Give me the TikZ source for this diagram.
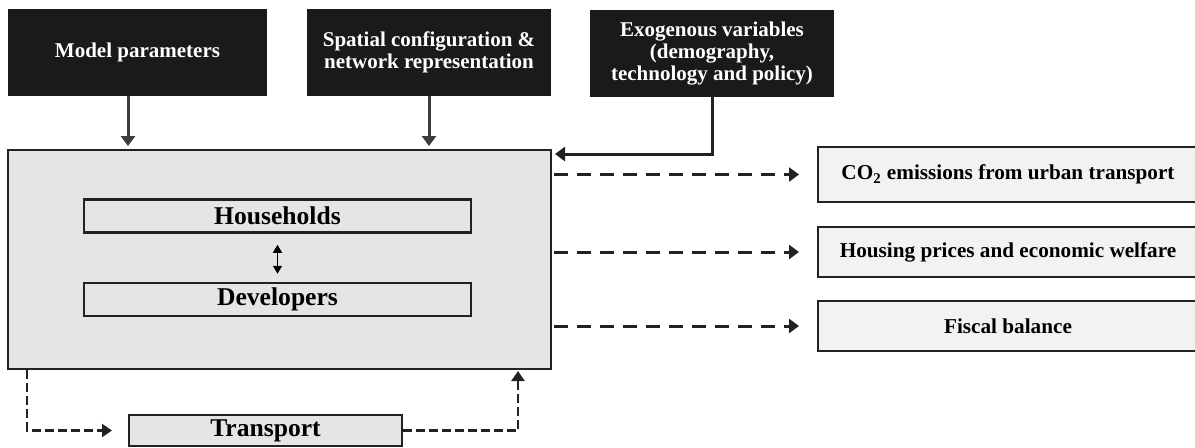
\documentclass[tikz,border=0pt]{standalone}
\usepackage{fontspec}
\setmainfont{Liberation Serif}
\usetikzlibrary{arrows.meta,calc}
\definecolor{blk}{HTML}{1A1A1A}
\definecolor{mainfill}{HTML}{E5E5E5}
\definecolor{outfill}{HTML}{F2F2F2}
\definecolor{edgec}{HTML}{222222}
\definecolor{arrg}{HTML}{3C3C3C}
\begin{document}
\begin{tikzpicture}[x=0.5pt,y=-0.5pt,
  inbox/.style={rectangle, fill=blk, text=white, font=\bfseries\fontsize{10.5pt}{10.8pt}\selectfont, align=center, inner sep=0pt, minimum height=43.5pt},
  bigbox/.style={rectangle, draw=edgec, line width=1pt, fill=mainfill, inner sep=0pt},
  agent/.style={rectangle, draw=edgec, line width=1.25pt, inner sep=0pt, minimum width=193.5pt, minimum height=16.5pt, font=\bfseries\fontsize{12.8pt}{12.8pt}\selectfont},
  outbox/.style={rectangle, draw=edgec, line width=1pt, fill=outfill, inner sep=0pt, minimum width=190pt, font=\bfseries\fontsize{10.6pt}{10.6pt}\selectfont},
  solidarr/.style={draw=arrg, line width=1.5pt, -{Triangle[width=7pt,length=5pt]}},
  exarr/.style={draw=edgec, line width=1.5pt, -{Triangle[width=7pt,length=5pt]}},
  dasharr/.style={draw=edgec, line width=1.5pt, dash pattern=on 7pt off 4.5pt, -{Triangle[width=7pt,length=5pt]}},
  tdash/.style={draw=edgec, line width=1.4pt, dash pattern=on 4.5pt off 2pt, -{Triangle[width=6.5pt,length=5pt]}},
  dbl/.style={draw=black, line width=0.8pt, {Triangle[width=4.5pt,length=4pt]}-{Triangle[width=4.5pt,length=4pt]}}
]
\useasboundingbox (0,0) rectangle (1195,447);

% top inputs
\node[inbox, minimum width=129.5pt] (mp) at (137.5,52.5) {Model parameters};
\node[inbox, minimum width=122pt] (sc) at (429,52.5) {Spatial configuration \&\\network representation};
\node[inbox, minimum width=122pt] (ex) at (712,53.5) {Exogenous variables\\(demography,\\technology and policy)};

% main model
\node[bigbox, minimum width=271.5pt, minimum height=109.5pt] (main) at (279.5,259.5) {};
\node[agent] (hh) at (277.5,216) {Households};
\node[agent] (dev) at (277.5,299.5) {Developers};

% transport
\node[bigbox, minimum width=136.5pt, minimum height=15.5pt, font=\bfseries\fontsize{12.8pt}{12.8pt}\selectfont] (tr) at (265.5,430.5) {Transport};

% outputs
\node[outbox, minimum height=27.5pt] (co2) at (1008,174.5) {CO\textsubscript{2} emissions from urban transport};
\node[outbox, minimum height=25pt] (hp) at (1008,252) {Housing prices and economic welfare};
\node[outbox, minimum height=25pt] (fb) at (1008,326) {Fiscal balance};

% input arrows
\coordinate (a1) at (128,0);
\draw[solidarr, shorten >=1.5pt] (mp.south -| a1) -- (main.north -| a1);
\draw[solidarr, shorten >=1.5pt] (sc.south) -- (main.north -| sc.south);
\draw[exarr, shorten >=1.5pt] (ex.south) |- ([yshift=-2.5pt]main.north east);

% inner interaction
\draw[dbl, shorten <=5.5pt, shorten >=4pt] (hh) -- (dev);

% outputs
\draw[dasharr, shorten <=1pt, shorten >=9pt] (main.east |- co2) -- (co2.west);
\draw[dasharr, shorten <=1pt, shorten >=9pt] (main.east |- hp) -- (hp.west);
\draw[dasharr, shorten <=1pt, shorten >=9pt] (main.east |- fb) -- (fb.west);

% transport loop
\draw[tdash, shorten >=8pt] ([xshift=10pt]main.south west) |- (tr.west);
\draw[tdash, shorten >=0.5pt] (tr.east) -| ([xshift=-17pt]main.south east);
\end{tikzpicture}
\end{document}
